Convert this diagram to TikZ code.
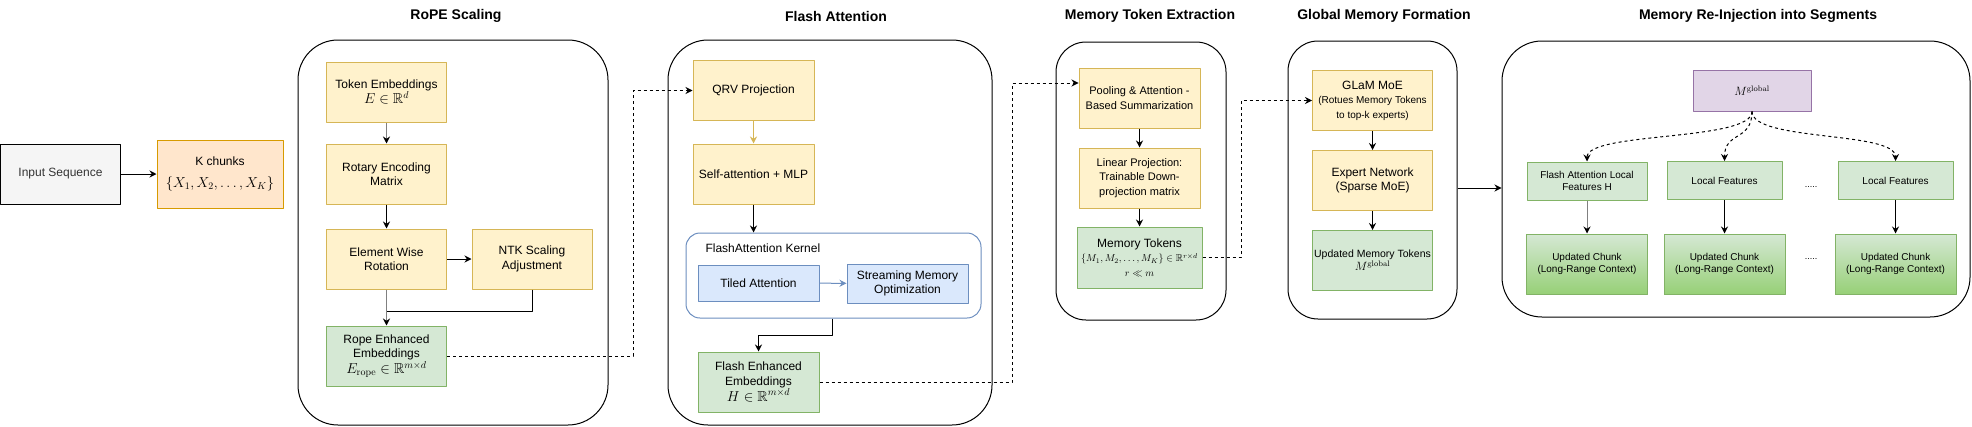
\documentclass[tikz,border=0pt]{standalone}
\usepackage{amsmath,amssymb}
\usepackage[no-math]{fontspec}
\setmainfont{Liberation Sans}
\usetikzlibrary{arrows.meta}

\definecolor{yfill}{HTML}{FFF2CC}
\definecolor{ydraw}{HTML}{D6B656}
\definecolor{ofill}{HTML}{FFE6CC}
\definecolor{odraw}{HTML}{D79B00}
\definecolor{gfill}{HTML}{D5E8D4}
\definecolor{gdraw}{HTML}{82B366}
\definecolor{gdark}{HTML}{97D077}
\definecolor{bfill}{HTML}{DAE8FC}
\definecolor{bdraw}{HTML}{6C8EBF}
\definecolor{pfill}{HTML}{E1D5E7}
\definecolor{pdraw}{HTML}{9673A6}
\definecolor{sfill}{HTML}{F5F5F5}
\definecolor{stext}{HTML}{333333}

\newcommand{\mthsz}{\fontsize{14.4}{15}\selectfont}
\newcommand{\smsz}{\fontsize{10}{12}\selectfont}

\tikzset{
  blk/.style={draw, line width=1pt, align=center, inner sep=2pt,
    minimum width=120pt, minimum height=60pt, font=\fontsize{12}{14.5}\selectfont},
  ybox/.style={blk, draw=ydraw, fill=yfill},
  gbox/.style={blk, draw=gdraw, fill=gfill},
  bbox/.style={blk, draw=bdraw, fill=bfill, minimum width=121pt, minimum height=36pt},
  lbox/.style={gbox, minimum height=38pt, font=\fontsize{10}{11.5}\selectfont},
  ubox/.style={blk, draw=gdraw, top color=gfill, bottom color=gdark,
    minimum width=121pt, font=\fontsize{10}{11.5}\selectfont},
  stage/.style={draw, line width=1pt, rounded corners=40pt},
  ttl/.style={font=\fontsize{14}{16}\selectfont\bfseries},
  arr/.style={line width=1pt, -{Stealth[length=7pt,width=7pt]}},
  garr/.style={line width=1pt, draw=black!50, -{Stealth[length=7pt,width=7pt,black]}},
  dsh/.style={arr, dash pattern=on 3pt off 3pt},
}

\begin{document}
\begin{tikzpicture}[x=1pt, y=-1pt, line join=round]
\useasboundingbox (0,0) rectangle (1972,426);

\node[ttl] (trps) at (456,16) {RoPE Scaling};
\node[ttl] (tfas) at (836,16) {Flash Attention};
\node[ttl] (tmte) at (1150,16) {Memory Token Extraction};
\node[ttl] (tgmf) at (1384,16) {Global Memory Formation};
\node[ttl] (tmri) at (1758,16) {Memory Re-Injection into Segments};

\node[stage, minimum width=310pt, minimum height=385pt] (rps) at (453,232.5) {};
\node[stage, minimum width=324pt, minimum height=385pt] (fas) at (830,232.5) {};
\node[stage, rounded corners=30pt, minimum width=170pt, minimum height=278pt] (mte) at (1141,181) {};
\node[stage, rounded corners=30pt, minimum width=169pt, minimum height=278pt] (gmf) at (1372.5,180) {};
\node[stage, minimum width=468pt, minimum height=276pt] (mri) at (1736,179) {};

\node[blk, draw=black, fill=sfill, text=stext] (inp) at (60.5,174) {Input Sequence};
\node[blk, draw=odraw, fill=ofill, minimum width=126pt, minimum height=68pt] (kch) at (220,174)
  {K chunks\\[7pt]{\fontsize{14.4}{16}\selectfont $\{X_1, X_2, \ldots, X_K\}$}};
\draw[arr] (inp) -- (kch);

\node[ybox] (tok) at (386.5,92) {Token Embeddings\\{\mthsz $E \in \mathbb{R}^d$}};
\node[ybox] (rot) at (386.5,174) {Rotary Encoding\\Matrix};
\node[ybox] (elw) at (386.5,259) {Element Wise\\Rotation};
\node[ybox] (ntk) at (532,259) {NTK Scaling\\Adjustment};
\node[gbox] (rpe) at (386.5,356) {Rope Enhanced\\Embeddings\\{\mthsz $E_{\mathrm{rope}} \in \mathbb{R}^{m\times d}$}};
\coordinate (mrg) at (386.5,311);
\draw[garr] (tok) -- (rot);
\draw[arr] (rot) -- (elw);
\draw[arr] (elw) -- (ntk);
\draw[garr] (elw) -- (rpe);
\draw[line width=1pt] (ntk.south) |- (mrg);

\node[ybox, minimum width=121pt] (qrv) at (753.5,90.5) {QRV Projection};
\node[ybox, minimum width=121pt] (sat) at (753.5,174) {Self-attention + MLP};
\node[draw=bdraw, line width=1pt, rounded corners=14pt, minimum width=295pt, minimum height=85pt] (ker) at (833.5,275.5) {};
\node[anchor=west, font=\fontsize{12}{14.5}\selectfont] (kerl) at (702,248) {FlashAttention Kernel};
\node[bbox] (til) at (758.5,283) {Tiled Attention};
\node[bbox, minimum height=39pt] (stm) at (907.5,283.5) {Streaming Memory\\Optimization};
\node[gbox, minimum width=121pt] (fee) at (758.5,382) {Flash Enhanced\\Embeddings\\{\mthsz $H \in \mathbb{R}^{m\times d}$}};
\coordinate (fk) at (832,335);
\draw[arr, draw=ydraw] (qrv) -- (sat);
\draw[arr] (sat) -- (sat |- ker.north);
\draw[arr, draw=bdraw] (til) -- (stm);
\draw[arr] (ker.south -| fk) -- (fk) -| (fee.north);

\node[ybox, minimum width=121pt, font=\fontsize{11}{14.5}\selectfont] (pol) at (1139.5,98) {Pooling \& Attention -\\Based Summarization};
\node[ybox, minimum width=121pt, font=\fontsize{11}{14.5}\selectfont] (lin) at (1139.5,178) {Linear Projection:\\Trainable Down-\\projection matrix};
\node[gbox, minimum width=125pt, minimum height=61pt] (mtk) at (1139.5,257.5)
  {Memory Tokens\\{\smsz $\{M_1, M_2, \ldots, M_K\} \in \mathbb{R}^{r\times d}$}\\{\smsz $r \ll m$}};
\draw[arr] (pol) -- (lin);
\draw[arr] (lin) -- (mtk);

\node[ybox] (glm) at (1372.5,100.5) {GLaM MoE\\{\smsz (Rotues Memory Tokens}\\{\smsz to top-k experts)}};
\node[ybox] (exn) at (1372.5,180.5) {Expert Network\\(Sparse MoE)};
\node[gbox, font=\fontsize{10.5}{13}\selectfont] (umt) at (1372.5,260.5) {Updated Memory Tokens\\{\fontsize{12}{13}\selectfont $M^{\mathrm{global}}$}};
\draw[arr] (glm) -- (exn);
\draw[arr] (exn) -- (umt);

\coordinate (d1) at (633,0);
\coordinate (d2) at (1012,0);
\coordinate (d3) at (1241,0);
\draw[dsh] (rpe.east) -- (rpe.east -| d1) |- (qrv.west);
\draw[dsh] (fee.east) -- (fee.east -| d2) |- ([yshift=15pt]pol.west);
\draw[dsh] (mtk.east) -- (mtk.east -| d3) |- (glm.west);
\draw[arr] ([yshift=-8pt]gmf.east) -- ([yshift=-8pt]gmf.east -| mri.west);

\node[blk, draw=pdraw, fill=pfill, minimum width=118pt, minimum height=41pt] (mgl) at (1752,90.5) {\fontsize{12}{13}\selectfont $M^{\mathrm{global}}$};
\node[lbox] (lf1) at (1587,181) {Flash Attention Local\\Features H};
\node[lbox, minimum width=115pt] (lf2) at (1724.5,180.5) {Local Features};
\node[lbox, minimum width=115pt] (lf3) at (1895.5,180.5) {Local Features};
\foreach \n/\x in {1/1587, 2/1724.5, 3/1895.5} {
  \node[ubox] (uc\n) at (\x,264) {Updated Chunk\\(Long-Range Context)};
}
\node[font=\fontsize{9}{10}\selectfont] (dt1) at (1811,187) {.....};
\node[font=\fontsize{9}{10}\selectfont] (dt2) at (1811,259) {.....};

\foreach \n in {1,2,3} {
  \draw[dsh] (mgl.south) .. controls +(0,30) and +(0,-30) .. (lf\n.north);
}
\draw[garr] (lf1.south) -- (lf1.south |- uc1.north);
\foreach \n in {2,3} {
  \draw[arr] (lf\n.south) -- (lf\n.south |- uc\n.north);
}

\end{tikzpicture}
\end{document}
